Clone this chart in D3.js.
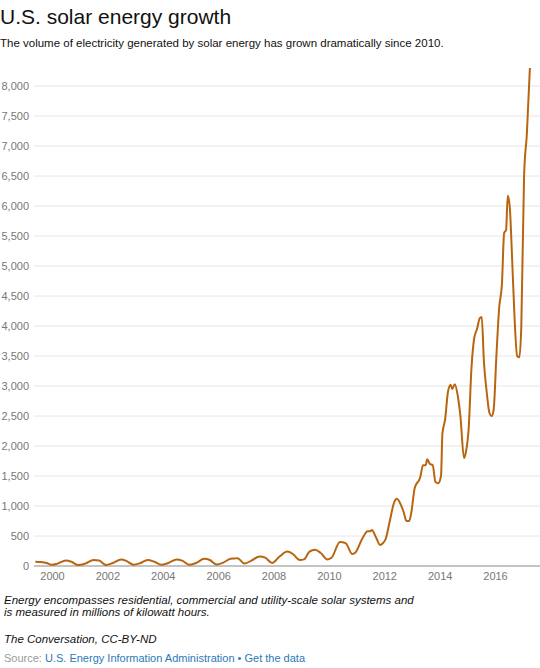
<!DOCTYPE html>
<html><head><meta charset="utf-8">
<script src="https://cdn.jsdelivr.net/npm/d3@7"></script>
<style>
body{margin:0;background:#fff;font-family:Arial,"Liberation Sans",sans-serif;}
</style></head><body>
<svg id="c" width="540" height="668"></svg>
<script>
const years = [1999.4,1999.6,1999.8,2000.0,2000.2,2000.5,2000.7,2000.95,2001.2,2001.5,2001.7,2001.95,2002.2,2002.5,2002.7,2002.95,2003.2,2003.45,2003.7,2003.95,2004.2,2004.5,2004.7,2004.95,2005.2,2005.5,2005.7,2005.95,2006.2,2006.45,2006.6,2006.7,2006.95,2007.2,2007.5,2007.7,2007.95,2008.2,2008.5,2008.7,2008.95,2009.1,2009.3,2009.5,2009.7,2009.95,2010.1,2010.4,2010.6,2010.85,2010.95,2011.2,2011.4,2011.5,2011.55,2011.7,2011.85,2011.95,2012.05,2012.2,2012.35,2012.45,2012.6,2012.7,2012.8,2012.9,2012.98,2013.1,2013.3,2013.4,2013.5,2013.55,2013.65,2013.75,2013.85,2013.95,2014.05,2014.1,2014.2,2014.3,2014.4,2014.45,2014.55,2014.65,2014.75,2014.88,2014.95,2015.05,2015.15,2015.25,2015.35,2015.45,2015.52,2015.6,2015.7,2015.8,2015.88,2015.95,2016.05,2016.15,2016.25,2016.33,2016.4,2016.46,2016.53,2016.62,2016.7,2016.8,2016.88,2016.95,2017.05,2017.15,2017.26];
const values = [70,65,50,20,40,90,70,15,40,100,90,15,50,110,80,20,50,100,70,20,50,110,90,20,50,120,100,25,60,120,125,130,40,90,160,140,50,150,240,200,100,110,240,270,220,110,140,400,380,200,220,450,580,580,600,480,350,380,450,750,1050,1120,1020,900,750,750,900,1300,1480,1680,1680,1780,1700,1680,1400,1380,1500,2200,2450,2900,3020,2950,3030,2850,2500,1800,1900,2300,3300,3800,3950,4130,4150,3400,2900,2550,2500,2600,3500,4300,4700,5550,5600,6170,6000,5100,4200,3500,3480,4000,6500,7200,8300];
const yTicks = [0,500,1000,1500,2000,2500,3000,3500,4000,4500,5000,5500,6000,6500,7000,7500,8000];
const xTicks = [2000,2002,2004,2006,2008,2010,2012,2014,2016];

const svg = d3.select("#c");
const x = d3.scaleLinear().domain([1999.35,2017.3]).range([34,531]);
const y = d3.scaleLinear().domain([0,8000]).range([566,86]);

svg.append("text").attr("x",0).attr("y",24).attr("font-size",21).attr("fill","#111").text("U.S. solar energy growth");
svg.append("text").attr("x",0).attr("y",47).attr("font-size",11.5).attr("fill","#111").text("The volume of electricity generated by solar energy has grown dramatically since 2010.");

const g = svg.append("g");
yTicks.forEach(t=>{
  if(t>0) g.append("line").attr("x1",34).attr("x2",540).attr("y1",y(t)).attr("y2",y(t)).attr("stroke","#e6e6e6").attr("stroke-width",1);
  g.append("text").attr("x",29).attr("y",y(t)+4).attr("text-anchor","end").attr("font-size",11).attr("fill","#777").text(d3.format(",")(t));
});
g.append("line").attr("x1",34).attr("x2",540).attr("y1",y(0)).attr("y2",y(0)).attr("stroke","#888");
const xa = svg.append("g").attr("transform",`translate(0,${y(0)})`)
  .call(d3.axisBottom(x).tickValues(xTicks).tickFormat(d3.format("d")).tickSize(0).tickPadding(6));
xa.select(".domain").remove();
xa.selectAll("text").attr("font-size",11).attr("fill","#777").attr("font-family","Arial,'Liberation Sans',sans-serif");

const data = years.map((d,i)=>[d,values[i]]);
svg.append("path").datum(data).attr("fill","none").attr("stroke","#b8650f").attr("stroke-width",2)
  .attr("d",d3.line().x(d=>x(d[0])).y(d=>y(d[1])).curve(d3.curveMonotoneX));

const f = svg.append("g").attr("font-size",11.5);
f.append("text").attr("x",4).attr("y",604).attr("font-style","italic").attr("fill","#111").text("Energy encompasses residential, commercial and utility-scale solar systems and");
f.append("text").attr("x",4).attr("y",616).attr("font-style","italic").attr("fill","#111").text("is measured in millions of kilowatt hours.");
f.append("text").attr("x",4).attr("y",643).attr("font-style","italic").attr("fill","#111").text("The Conversation, CC-BY-ND");
const s = f.append("text").attr("x",4).attr("y",662).attr("font-size",11);
s.append("tspan").attr("fill","#999").text("Source: ");
s.append("tspan").attr("fill","#2a7ab8").text("U.S. Energy Information Administration • Get the data");
</script></body></html>
